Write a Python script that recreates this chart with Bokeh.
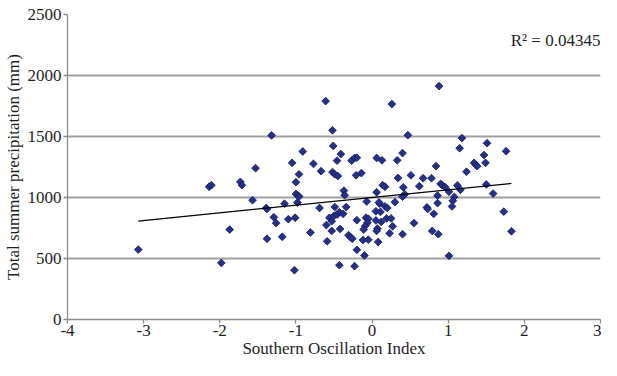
import math
from bokeh.plotting import figure
from bokeh.models import Range1d, FixedTicker, Label, ColumnDataSource
from bokeh.embed import file_html
from bokeh.resources import INLINE

# Southern Oscillation Index (x) and total summer precipitation in mm (y)
soi = [-3.07, -1.98, -2.14, -2.11, -1.73, -1.71, -1.53, -1.57, -1.87, -1.32,
       -1.39, -1.38, -1.38, -1.29, -1.26, -1.15, -1.18, -1.10, -1.01, -1.02,
       -1.00, -0.97, -0.96, -0.98, -1.00, -0.96, -1.05, -0.91, -0.81, -0.77,
       -0.69, -0.67, -0.61, -0.60, -0.59, -0.56, -0.53, -0.53, -0.52, -0.51,
       -0.52, -0.49, -0.45, -0.50, -0.49, -0.46, -0.46, -0.43, -0.42, -0.41,
       -0.38, -0.37, -0.36, -0.34, -0.43, -0.31, -0.28, -0.26, -0.27, -0.23,
       -0.20, -0.21, -0.14, -0.20, -0.23, -0.20, -0.10, -0.12, -0.05, -0.07,
       -0.08, -0.05, -0.06, -0.09, -0.11, 0.05, 0.10, 0.11, 0.05, 0.07,
       0.06, 0.08, 0.06, 0.06, 0.13, 0.14, 0.17, 0.17, 0.20, 0.19,
       0.25, 0.27, 0.23, 0.26, 0.30, 0.33, 0.34, 0.40, 0.41, 0.40,
       0.43, 0.40, 0.47, 0.51, 0.55, 0.62, 0.67, 0.72, 0.73, 0.78,
       0.81, 0.79, 0.87, 0.84, 0.86, 0.86, 0.88, 0.90, 0.92, 0.96,
       1.01, 1.01, 1.08, 1.06, 1.05, 1.12, 1.16, 1.15, 1.18, 1.24,
       1.34, 1.36, 1.38, 1.47, 1.49, 1.51, 1.50, 1.59, 1.73, 1.76,
       1.83, 0.09, 0.12]
precip = [573, 464, 1088, 1101, 1128, 1101, 1240, 978, 737, 1509,
          914, 906, 662, 838, 790, 949, 678, 822, 834, 404,
          1029, 1015, 1007, 959, 1125, 1190, 1284, 1377, 713, 1276,
          914, 1216, 1790, 774, 641, 834, 806, 726, 1551, 1423,
          1208, 1190, 1176, 850, 922, 1302, 860, 879, 742, 1356,
          866, 1056, 1019, 922, 445, 691, 673, 662, 1302, 1324,
          1326, 1182, 1200, 814, 437, 571, 525, 651, 654, 967,
          834, 826, 793, 766, 737, 887, 949, 882, 812, 745,
          726, 635, 1043, 1324, 1305, 1101, 1088, 927, 914, 828,
          828, 764, 707, 1766, 962, 1305, 1160, 1364, 1083, 1007,
          1026, 699, 1511, 1182, 790, 1093, 1158, 919, 906, 1158,
          866, 726, 699, 1257, 1015, 954, 1913, 1112, 1101, 1085,
          1047, 522, 1005, 973, 927, 1099, 1063, 1404, 1487, 1211,
          1284, 1268, 1257, 1348, 1284, 1445, 1107, 1032, 884, 1380,
          723, 960, 800]

# linear trend shown in the chart
trend_intercept = 1000.0
trend_slope = 63.0
r2_text = "R\u00b2 = 0.04345"

x_ticks = [-4, -3, -2, -1, 0, 1, 2, 3]
x_tick_labels = ["-4", "-3", "-2", "-1", "0", "1", "2", "3"]
y_ticks = [0, 500, 1000, 1500, 2000, 2500]

FONT = "'Liberation Serif', 'Times New Roman', serif"
FS = "17px"

p = figure(width=601, height=360, output_backend="svg", toolbar_location=None,
           x_range=Range1d(-4, 3), y_range=Range1d(0, 2500),
           min_border_left=4, min_border_right=1, min_border_top=14,
           min_border_bottom=2)
p.outline_line_color = None
p.background_fill_color = "white"
p.border_fill_color = "white"

p.xgrid.grid_line_color = None
p.ygrid.grid_line_color = "#a0a0a0"
p.ygrid.grid_line_width = 1.8
p.ygrid.ticker = FixedTicker(ticks=y_ticks)

for ax in (p.xaxis, p.yaxis):
    ax.axis_line_color = "#8c8c8c"
    ax.axis_line_width = 1.3
    ax.major_tick_line_color = "#8c8c8c"
    ax.major_tick_line_width = 1.3
    ax.minor_tick_line_color = None
    ax.major_tick_in = 0
    ax.major_tick_out = 4
    ax.major_label_text_font = FONT
    ax.major_label_text_font_size = FS
    ax.major_label_text_color = "#1e1e1e"
    ax.axis_label_text_font = FONT
    ax.axis_label_text_font_size = FS
    ax.axis_label_text_font_style = "normal"
    ax.axis_label_text_color = "#1e1e1e"

p.xaxis.ticker = FixedTicker(ticks=x_ticks)
p.xaxis.major_label_overrides = {t: lab for t, lab in zip(x_ticks, x_tick_labels)}
p.yaxis.ticker = FixedTicker(ticks=y_ticks)
p.xaxis.axis_label = "Southern Oscillation Index"
p.yaxis.axis_label = "Total summer precipitation (mm)"
p.yaxis.major_label_standoff = 2
p.yaxis.axis_label_standoff = 2
p.xaxis.major_label_standoff = 1
p.xaxis.axis_label_standoff = 0

src = ColumnDataSource(dict(x=soi, y=precip))
p.scatter("x", "y", source=src, marker="square", angle=math.pi / 4, size=5.5,
          fill_color="#25308a", line_color="#151b5c", line_width=0.8)

x0, x1 = min(soi), max(soi)
p.line([x0, x1], [trend_intercept + trend_slope * x0, trend_intercept + trend_slope * x1],
       line_color="black", line_width=1.3)

p.add_layout(Label(x=1.82, y=2285, text=r2_text, text_font=FONT,
                   text_font_size=FS, text_color="#1e1e1e",
                   text_baseline="middle", text_align="left"))

open("out.html", "w").write(file_html(p, INLINE))
